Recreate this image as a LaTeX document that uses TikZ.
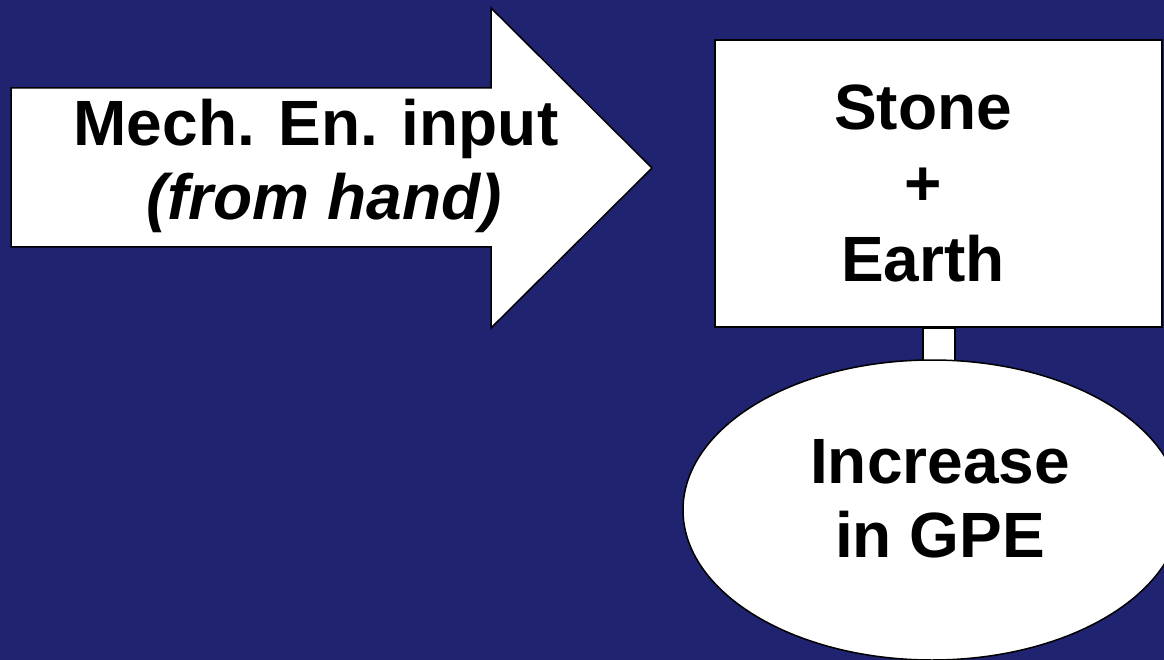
\documentclass[tikz,border=0pt]{standalone}
\usepackage{fontspec}
\setmainfont{Liberation Sans}
\usetikzlibrary{shapes.geometric}
\definecolor{slideblue}{RGB}{31,35,112}
\pgfdeclarelayer{bg}
\pgfdeclarelayer{link}
\pgfsetlayers{bg,link,main}
\tikzset{
  shapeline/.style={draw=black, line width=1.5pt, fill=white},
  bigtext/.style={font=\fontsize{64}{74}\selectfont\bfseries, inner sep=0pt, anchor=base},
}
\begin{document}
\begin{tikzpicture}[x=1pt, y=-1pt]
  \useasboundingbox (0,0) rectangle (1164,660);
  \clip (0,0) rectangle (1164,660);
  \begin{pgfonlayer}{bg}
    \fill[slideblue] (0,0) rectangle (1164,660);
  \end{pgfonlayer}

  % input arrow
  \draw[shapeline, line join=miter]
    (11,88) -- (491,88) -- (491,8) -- (652,168) -- (491,328) -- (491,247) -- (11,247) -- cycle;
  \node[bigtext] (in1) at (316,146) {Mech. En. input};
  \node[bigtext] (in2) at (324,220) {\itshape (from hand)};

  % system box
  \node[shapeline, rectangle, minimum width=447pt, minimum height=287pt, inner sep=0pt]
    (box) at (938.5,183.5) {};
  \node[bigtext] (s1) at (923,130) {Stone};
  \node[bigtext] (s2) at (923,206) {+};
  \node[bigtext] (s3) at (923,282) {Earth};

  % energy store
  \node[shapeline, ellipse, minimum width=498pt, minimum height=300pt, inner sep=0pt]
    (gpe) at (932,510) {};
  \node[bigtext] (g1) at (940,483) {Increase};
  \node[bigtext] (g2) at (940,557) {in GPE};

  % link between box and store
  \begin{pgfonlayer}{link}
    \draw[shapeline] (923,0 |- box.south) rectangle (955,0 |- gpe.center);
  \end{pgfonlayer}
\end{tikzpicture}
\end{document}
